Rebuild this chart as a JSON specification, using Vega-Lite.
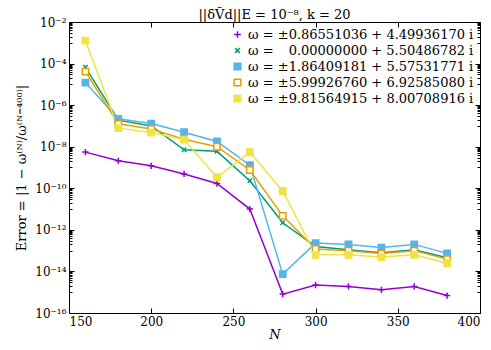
{
  "$schema": "https://vega.github.io/schema/vega-lite/v6.json",
  "width": 411,
  "height": 291,
  "autosize": "none",
  "padding": {"left": 69, "top": 22, "right": 11, "bottom": 37},
  "background": "white",
  "title": {"text": "||δṼd||E = 10⁻⁸, k = 20", "font": "DejaVu Serif", "fontSize": 13, "fontWeight": "normal", "offset": -6, "color": "black"},
  "config": {
    "view": {"stroke": "black", "strokeWidth": 1},
    "axis": {"grid": false, "domain": false, "tickColor": "black", "tickSize": -5, "labelFont": "DejaVu Serif", "labelFontSize": 12, "labelColor": "black", "titleFont": "DejaVu Serif", "titleFontSize": 13, "titleFontWeight": "normal", "titleColor": "black"},
    "legend": {"orient": "top-right", "labelFont": "DejaVu Serif", "labelFontSize": 13, "labelColor": "black", "labelLimit": 400, "rowPadding": 2, "symbolSize": 45, "symbolStrokeWidth": 1.5, "offset": 4, "padding": 2}
  },
  "data": {"values": [
    {"N": 160, "err": 5.5e-9, "s": "ω = ±0.86551036 + 4.49936170 i"},
    {"N": 180, "err": 2.1e-9, "s": "ω = ±0.86551036 + 4.49936170 i"},
    {"N": 200, "err": 1.2e-9, "s": "ω = ±0.86551036 + 4.49936170 i"},
    {"N": 220, "err": 4.9e-10, "s": "ω = ±0.86551036 + 4.49936170 i"},
    {"N": 240, "err": 1.7e-10, "s": "ω = ±0.86551036 + 4.49936170 i"},
    {"N": 260, "err": 1.0e-11, "s": "ω = ±0.86551036 + 4.49936170 i"},
    {"N": 280, "err": 8.1e-16, "s": "ω = ±0.86551036 + 4.49936170 i"},
    {"N": 300, "err": 2.2e-15, "s": "ω = ±0.86551036 + 4.49936170 i"},
    {"N": 320, "err": 1.9e-15, "s": "ω = ±0.86551036 + 4.49936170 i"},
    {"N": 340, "err": 1.3e-15, "s": "ω = ±0.86551036 + 4.49936170 i"},
    {"N": 360, "err": 1.9e-15, "s": "ω = ±0.86551036 + 4.49936170 i"},
    {"N": 380, "err": 6.9e-16, "s": "ω = ±0.86551036 + 4.49936170 i"},
    {"N": 160, "err": 6.6e-5, "s": "ω = \u2007\u20090.00000000 + 5.50486782 i"},
    {"N": 180, "err": 1.9e-7, "s": "ω = \u2007\u20090.00000000 + 5.50486782 i"},
    {"N": 200, "err": 1.0e-7, "s": "ω = \u2007\u20090.00000000 + 5.50486782 i"},
    {"N": 220, "err": 7.1e-9, "s": "ω = \u2007\u20090.00000000 + 5.50486782 i"},
    {"N": 240, "err": 6.0e-9, "s": "ω = \u2007\u20090.00000000 + 5.50486782 i"},
    {"N": 260, "err": 2.3e-10, "s": "ω = \u2007\u20090.00000000 + 5.50486782 i"},
    {"N": 280, "err": 2.2e-12, "s": "ω = \u2007\u20090.00000000 + 5.50486782 i"},
    {"N": 300, "err": 1.6e-13, "s": "ω = \u2007\u20090.00000000 + 5.50486782 i"},
    {"N": 320, "err": 1.1e-13, "s": "ω = \u2007\u20090.00000000 + 5.50486782 i"},
    {"N": 340, "err": 8.0e-14, "s": "ω = \u2007\u20090.00000000 + 5.50486782 i"},
    {"N": 360, "err": 1.1e-13, "s": "ω = \u2007\u20090.00000000 + 5.50486782 i"},
    {"N": 380, "err": 4.5e-14, "s": "ω = \u2007\u20090.00000000 + 5.50486782 i"},
    {"N": 160, "err": 1.2e-5, "s": "ω = ±1.86409181 + 5.57531771 i"},
    {"N": 180, "err": 2.2e-7, "s": "ω = ±1.86409181 + 5.57531771 i"},
    {"N": 200, "err": 1.3e-7, "s": "ω = ±1.86409181 + 5.57531771 i"},
    {"N": 220, "err": 5.0e-8, "s": "ω = ±1.86409181 + 5.57531771 i"},
    {"N": 240, "err": 1.8e-8, "s": "ω = ±1.86409181 + 5.57531771 i"},
    {"N": 260, "err": 1.3e-9, "s": "ω = ±1.86409181 + 5.57531771 i"},
    {"N": 280, "err": 7.4e-15, "s": "ω = ±1.86409181 + 5.57531771 i"},
    {"N": 300, "err": 2.3e-13, "s": "ω = ±1.86409181 + 5.57531771 i"},
    {"N": 320, "err": 2.0e-13, "s": "ω = ±1.86409181 + 5.57531771 i"},
    {"N": 340, "err": 1.4e-13, "s": "ω = ±1.86409181 + 5.57531771 i"},
    {"N": 360, "err": 2.0e-13, "s": "ω = ±1.86409181 + 5.57531771 i"},
    {"N": 380, "err": 7.4e-14, "s": "ω = ±1.86409181 + 5.57531771 i"},
    {"N": 160, "err": 4.1e-5, "s": "ω = ±5.99926760 + 6.92585080 i"},
    {"N": 180, "err": 1.26e-7, "s": "ω = ±5.99926760 + 6.92585080 i"},
    {"N": 200, "err": 7.2e-8, "s": "ω = ±5.99926760 + 6.92585080 i"},
    {"N": 220, "err": 2.3e-8, "s": "ω = ±5.99926760 + 6.92585080 i"},
    {"N": 240, "err": 1.0e-8, "s": "ω = ±5.99926760 + 6.92585080 i"},
    {"N": 260, "err": 7.6e-10, "s": "ω = ±5.99926760 + 6.92585080 i"},
    {"N": 280, "err": 4.7e-12, "s": "ω = ±5.99926760 + 6.92585080 i"},
    {"N": 300, "err": 1.2e-13, "s": "ω = ±5.99926760 + 6.92585080 i"},
    {"N": 320, "err": 1.0e-13, "s": "ω = ±5.99926760 + 6.92585080 i"},
    {"N": 340, "err": 7.2e-14, "s": "ω = ±5.99926760 + 6.92585080 i"},
    {"N": 360, "err": 1.0e-13, "s": "ω = ±5.99926760 + 6.92585080 i"},
    {"N": 380, "err": 3.9e-14, "s": "ω = ±5.99926760 + 6.92585080 i"},
    {"N": 160, "err": 1.26e-3, "s": "ω = ±9.81564915 + 8.00708916 i"},
    {"N": 180, "err": 7.8e-8, "s": "ω = ±9.81564915 + 8.00708916 i"},
    {"N": 200, "err": 4.8e-8, "s": "ω = ±9.81564915 + 8.00708916 i"},
    {"N": 220, "err": 2.2e-8, "s": "ω = ±9.81564915 + 8.00708916 i"},
    {"N": 240, "err": 3.4e-10, "s": "ω = ±9.81564915 + 8.00708916 i"},
    {"N": 260, "err": 5.4e-9, "s": "ω = ±9.81564915 + 8.00708916 i"},
    {"N": 280, "err": 7.4e-11, "s": "ω = ±9.81564915 + 8.00708916 i"},
    {"N": 300, "err": 6.3e-14, "s": "ω = ±9.81564915 + 8.00708916 i"},
    {"N": 320, "err": 6.3e-14, "s": "ω = ±9.81564915 + 8.00708916 i"},
    {"N": 340, "err": 4.9e-14, "s": "ω = ±9.81564915 + 8.00708916 i"},
    {"N": 360, "err": 6.3e-14, "s": "ω = ±9.81564915 + 8.00708916 i"},
    {"N": 380, "err": 2.5e-14, "s": "ω = ±9.81564915 + 8.00708916 i"}
  ]},
  "layer": [
    {
      "mark": {"type": "line", "strokeWidth": 1.5},
      "encoding": {
        "x": {"field": "N", "type": "quantitative", "scale": {"domain": [150, 400], "nice": false}, "axis": {"values": [150, 200, 250, 300, 350, 400], "title": "N", "titleFontStyle": "italic", "labelPadding": 8, "titlePadding": 1}},
        "y": {"field": "err", "type": "quantitative", "scale": {"type": "log", "domain": [1e-16, 1e-2], "nice": false}, "axis": {"values": [1e-2, 1e-4, 1e-6, 1e-8, 1e-10, 1e-12, 1e-14, 1e-16], "labelExpr": "['','','10⁻²','','10⁻⁴','','10⁻⁶','','10⁻⁸','','10⁻¹⁰','','10⁻¹²','','10⁻¹⁴','','10⁻¹⁶'][round(-log(datum.value)/LN10)]", "title": "Error = |1 − ω⁽ᴺ⁾/ω⁽ᴺ⁼⁴⁰⁰⁾|", "labelPadding": 8, "titlePadding": 6}},
        "color": {"field": "s", "type": "nominal", "sort": null, "legend": null, "scale": {"range": ["#9400d3", "#009e73", "#56b4e9", "#e69f00", "#f0e442"]}},
        "strokeWidth": {"field": "s", "type": "nominal", "sort": null, "scale": {"range": [1.5, 1, 1.5, 1.5, 1.5]}, "legend": null}
      }
    },
    {
      "mark": {"type": "point", "strokeWidth": 1.5, "opacity": 1},
      "encoding": {
        "x": {"field": "N", "type": "quantitative", "axis": null},
        "y": {"field": "err", "type": "quantitative", "axis": null},
        "stroke": {"field": "s", "type": "nominal", "title": null, "sort": null, "scale": {"range": ["#9400d3", "#009e73", "#56b4e9", "#e69f00", "#f0e442"]}},
        "fill": {"field": "s", "type": "nominal", "title": null, "sort": null, "scale": {"range": ["transparent", "transparent", "#56b4e9", "white", "#f0e442"]}},
        "shape": {"field": "s", "type": "nominal", "title": null, "sort": null, "scale": {"range": ["M-1,0L1,0M0,-1L0,1", "M-0.7,-0.7L0.7,0.7M-0.7,0.7L0.7,-0.7", "square", "square", "square"]}},
        "size": {"value": 40}
      }
    },
    {
      "mark": {"type": "point", "opacity": 0},
      "encoding": {
        "x": {"field": "N", "type": "quantitative", "axis": {"orient": "top", "values": [150, 200, 250, 300, 350, 400], "labels": false, "title": null}},
        "y": {"field": "err", "type": "quantitative", "axis": {"orient": "right", "values": [1e-2, 1e-4, 1e-6, 1e-8, 1e-10, 1e-12, 1e-14, 1e-16], "labels": false, "title": null}}
      }
    },
    {
      "mark": {"type": "point", "opacity": 0},
      "encoding": {
        "x": {"field": "N", "type": "quantitative", "axis": null},
        "y": {"field": "err", "type": "quantitative", "axis": {"orient": "left", "tickSize": -3, "labels": false, "title": null, "values": [1e-3,2e-3,3e-3,4e-3,5e-3,6e-3,7e-3,8e-3,9e-3,1e-5,2e-5,3e-5,4e-5,5e-5,6e-5,7e-5,8e-5,9e-5,1e-7,2e-7,3e-7,4e-7,5e-7,6e-7,7e-7,8e-7,9e-7,1e-9,2e-9,3e-9,4e-9,5e-9,6e-9,7e-9,8e-9,9e-9,1e-11,2e-11,3e-11,4e-11,5e-11,6e-11,7e-11,8e-11,9e-11,1e-13,2e-13,3e-13,4e-13,5e-13,6e-13,7e-13,8e-13,9e-13,1e-15,2e-15,3e-15,4e-15,5e-15,6e-15,7e-15,8e-15,9e-15]}}
      }
    },
    {
      "mark": {"type": "point", "opacity": 0},
      "encoding": {
        "x": {"field": "N", "type": "quantitative", "axis": null},
        "y": {"field": "err", "type": "quantitative", "axis": {"orient": "right", "tickSize": -3, "labels": false, "title": null, "values": [1e-3,2e-3,3e-3,4e-3,5e-3,6e-3,7e-3,8e-3,9e-3,1e-5,2e-5,3e-5,4e-5,5e-5,6e-5,7e-5,8e-5,9e-5,1e-7,2e-7,3e-7,4e-7,5e-7,6e-7,7e-7,8e-7,9e-7,1e-9,2e-9,3e-9,4e-9,5e-9,6e-9,7e-9,8e-9,9e-9,1e-11,2e-11,3e-11,4e-11,5e-11,6e-11,7e-11,8e-11,9e-11,1e-13,2e-13,3e-13,4e-13,5e-13,6e-13,7e-13,8e-13,9e-13,1e-15,2e-15,3e-15,4e-15,5e-15,6e-15,7e-15,8e-15,9e-15]}}
      }
    }
  ],
  "resolve": {"axis": {"x": "independent", "y": "independent"}}
}
